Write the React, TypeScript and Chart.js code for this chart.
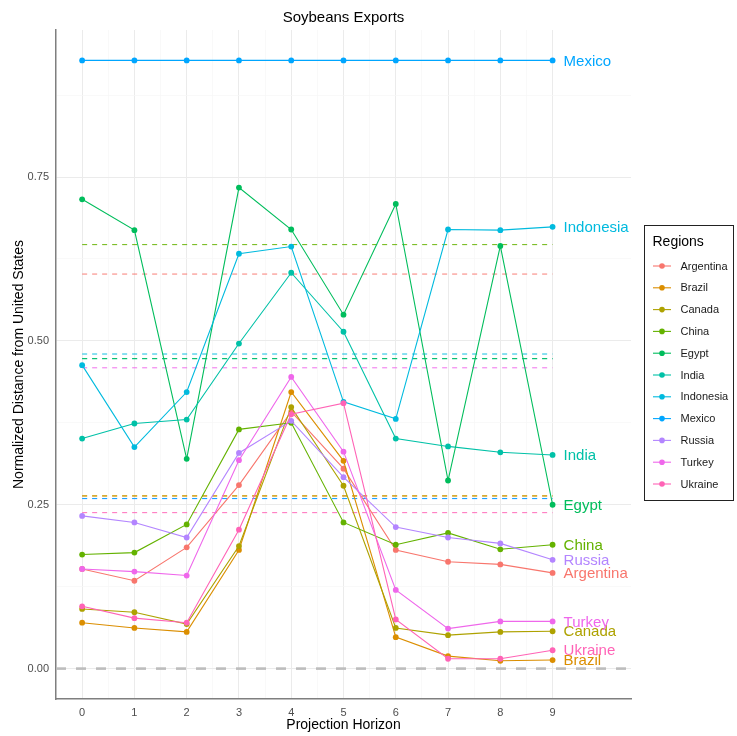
import { useEffect, useRef } from 'react';
import { Chart, registerables } from 'chart.js';

Chart.register(...registerables);

const FONT = "'Liberation Sans', Arial, Helvetica, sans-serif";

// Projection horizons on the x axis
const horizons = [0, 1, 2, 3, 4, 5, 6, 7, 8, 9];

const regions = [
  'Argentina', 'Brazil', 'Canada', 'China', 'Egypt', 'India',
  'Indonesia', 'Mexico', 'Russia', 'Turkey', 'Ukraine',
];

const regionColors = [
  '#F8766D', '#DB8E00', '#AEA200', '#64B200', '#00BD5C', '#00C1A7',
  '#00BADE', '#00A6FF', '#B385FF', '#EF67EB', '#FF63B6',
];

// Normalized distance from the United States, per horizon
const argentina = [0.152, 0.134, 0.185, 0.280, 0.392, 0.305, 0.181, 0.163, 0.159, 0.146];
const brazil = [0.070, 0.062, 0.056, 0.181, 0.422, 0.317, 0.048, 0.019, 0.012, 0.013];
const canada = [0.091, 0.086, 0.068, 0.187, 0.399, 0.279, 0.062, 0.051, 0.056, 0.057];
const china = [0.174, 0.177, 0.220, 0.365, 0.375, 0.223, 0.189, 0.207, 0.182, 0.189];
const egypt = [0.716, 0.669, 0.320, 0.734, 0.670, 0.540, 0.709, 0.287, 0.645, 0.250];
const india = [0.351, 0.374, 0.380, 0.496, 0.604, 0.514, 0.351, 0.339, 0.330, 0.326];
const indonesia = [0.463, 0.338, 0.422, 0.633, 0.644, 0.407, 0.381, 0.670, 0.669, 0.674];
const mexico = [0.928, 0.928, 0.928, 0.928, 0.928, 0.928, 0.928, 0.928, 0.928, 0.928];
const russia = [0.233, 0.223, 0.200, 0.329, 0.378, 0.292, 0.216, 0.200, 0.191, 0.166];
const turkey = [0.152, 0.148, 0.142, 0.318, 0.445, 0.331, 0.120, 0.061, 0.072, 0.072];
const ukraine = [0.095, 0.077, 0.070, 0.212, 0.388, 0.405, 0.075, 0.015, 0.015, 0.028];

const seriesValues = [
  argentina, brazil, canada, china, egypt, india,
  indonesia, mexico, russia, turkey, ukraine,
];

// Per-region reference levels (dashed lines)
const referenceLevels = [0.602, 0.2635, 0.2635, 0.647, 0.473, 0.473, 0.480, 0.2595, 0.2595, 0.459, 0.238];

// Axis tick positions (majors labelled, minors only gridded)
const xTicks = [0, 0.5, 1, 1.5, 2, 2.5, 3, 3.5, 4, 4.5, 5, 5.5, 6, 6.5, 7, 7.5, 8, 8.5, 9];
const yTicks = [0, 0.125, 0.25, 0.375, 0.5, 0.625, 0.75, 0.875];
const yMajor = [0, 0.25, 0.5, 0.75];

function withAlpha(hex: string, a: number) {
  const n = parseInt(hex.slice(1), 16);
  return `rgba(${(n >> 16) & 255},${(n >> 8) & 255},${n & 255},${a})`;
}

const isMajorY = (v: number) => yMajor.some((m) => Math.abs(m - v) < 1e-9);

const endLabels = {
  id: 'endLabels',
  afterDatasetsDraw(chart: any) {
    const ctx = chart.ctx;
    ctx.save();
    ctx.font = `15px ${FONT}`;
    ctx.textAlign = 'left';
    ctx.textBaseline = 'middle';
    chart.data.datasets.forEach((ds: any, i: number) => {
      if (!ds.isSeries) return;
      const meta = chart.getDatasetMeta(i);
      const last = meta.data[meta.data.length - 1];
      ctx.fillStyle = ds.borderColor;
      ctx.fillText(ds.label, last.x + 11, last.y + 1);
    });
    ctx.restore();
  },
};

const regionLegend = {
  id: 'regionLegend',
  afterDraw(chart: any) {
    const ctx = chart.ctx;
    const left = chart.chartArea.right + 13.5;
    const top = 225.5;
    const width = 89;
    const height = 275;
    ctx.save();
    ctx.fillStyle = '#FFFFFF';
    ctx.fillRect(left, top, width, height);
    ctx.strokeStyle = '#222222';
    ctx.lineWidth = 1;
    ctx.strokeRect(left, top, width, height);

    ctx.fillStyle = '#000000';
    ctx.font = `14px ${FONT}`;
    ctx.textAlign = 'left';
    ctx.textBaseline = 'middle';
    ctx.fillText('Regions', left + 8, top + 17);

    ctx.font = `11px ${FONT}`;
    regions.forEach((name, i) => {
      const y = top + 40.5 + i * 21.8;
      const c = regionColors[i];
      ctx.strokeStyle = c;
      ctx.lineWidth = 1.1;
      ctx.beginPath();
      ctx.moveTo(left + 8.5, y);
      ctx.lineTo(left + 26.5, y);
      ctx.stroke();
      ctx.fillStyle = c;
      ctx.beginPath();
      ctx.arc(left + 17.5, y, 2.8, 0, Math.PI * 2);
      ctx.fill();
      ctx.fillStyle = '#1A1A1A';
      ctx.fillText(name, left + 36, y + 0.5);
    });
    ctx.restore();
  },
};

export default function App() {
  const canvasRef = useRef<HTMLCanvasElement | null>(null);

  useEffect(() => {
    if (!canvasRef.current) return;

    const zeroLine = {
      label: 'zero',
      data: [{ x: -0.5, y: 0 }, { x: 10.5, y: 0 }],
      borderColor: '#BDBDBD',
      borderWidth: 2.6,
      borderDash: [10, 10],
      pointRadius: 0,
      order: 200,
    };

    const refLines = regions.map((name, i) => ({
      label: `${name} reference`,
      data: [
        { x: horizons[0], y: referenceLevels[i] },
        { x: horizons[horizons.length - 1], y: referenceLevels[i] },
      ],
      borderColor: withAlpha(regionColors[i], 0.85),
      borderWidth: 1.1,
      borderDash: [5, 5],
      pointRadius: 0,
      order: 100 + i,
    }));

    const series = regions.map((name, i) => ({
      label: name,
      isSeries: true,
      data: horizons.map((h, k) => ({ x: h, y: seriesValues[i][k] })),
      borderColor: regionColors[i],
      backgroundColor: regionColors[i],
      borderWidth: 1.1,
      pointRadius: 2.9,
      pointBorderWidth: 0,
      pointBackgroundColor: regionColors[i],
      tension: 0,
      order: regions.length - i,
    }));

    const chart = new Chart(canvasRef.current, {
      type: 'line',
      data: { datasets: [zeroLine, ...refLines, ...series] as any },
      options: {
        animation: false,
        responsive: false,
        devicePixelRatio: 1,
        events: [],
        layout: { padding: { left: 0, right: 106, top: 0, bottom: 0 } },
        plugins: {
          legend: { display: false },
          tooltip: { enabled: false },
          title: {
            display: true,
            text: 'Soybeans Exports',
            fullSize: false,
            color: '#000000',
            font: { family: FONT, size: 15, weight: 'normal', lineHeight: 1.2 },
            padding: { top: 9, bottom: 3 },
          },
        },
        scales: {
          x: {
            type: 'linear',
            min: -0.5,
            max: 10.5,
            afterBuildTicks: (scale: any) => {
              scale.ticks = xTicks.map((v) => ({ value: v }));
            },
            afterFit: (scale: any) => {
              scale.height = 37;
            },
            ticks: {
              autoSkip: false,
              maxRotation: 0,
              padding: 7,
              color: '#4D4D4D',
              font: { family: FONT, size: 11 },
              callback: (v: any) => (Number.isInteger(v) ? String(v) : ''),
            },
            grid: {
              drawTicks: false,
              color: (c: any) => (c.tick && Number.isInteger(c.tick.value) ? '#EBEBEB' : '#F6F6F6'),
              lineWidth: (c: any) => (c.tick && Number.isInteger(c.tick.value) ? 1 : 0.7),
            },
            border: { display: true, color: '#7F7F7F', width: 1.5 },
            title: {
              display: true,
              text: 'Projection Horizon',
              color: '#000000',
              font: { family: FONT, size: 14, lineHeight: 1.2 },
              padding: { top: 0, bottom: 2 },
            },
          },
          y: {
            type: 'linear',
            min: -0.0464,
            max: 0.9744,
            afterBuildTicks: (scale: any) => {
              scale.ticks = yTicks.map((v) => ({ value: v }));
            },
            afterFit: (scale: any) => {
              scale.width = 56;
            },
            ticks: {
              autoSkip: false,
              padding: 7,
              color: '#4D4D4D',
              font: { family: FONT, size: 11 },
              callback: (v: any) => (isMajorY(v) ? Number(v).toFixed(2) : ''),
            },
            grid: {
              drawTicks: false,
              color: (c: any) => (c.tick && isMajorY(c.tick.value) ? '#EBEBEB' : '#F6F6F6'),
              lineWidth: (c: any) => (c.tick && isMajorY(c.tick.value) ? 1 : 0.7),
            },
            border: { display: true, color: '#7F7F7F', width: 1.5 },
            title: {
              display: true,
              text: 'Normalized Distance from United States',
              color: '#000000',
              font: { family: FONT, size: 14, lineHeight: 1.2 },
              padding: { top: 11, bottom: 0 },
            },
          },
        },
      } as any,
      plugins: [endLabels, regionLegend],
    });

    return () => chart.destroy();
  }, []);

  return (
    <div style={{ position: 'absolute', left: 0, top: 0, width: 737, height: 736, background: '#FFFFFF' }}>
      <canvas ref={canvasRef} width={737} height={736} style={{ display: 'block' }} />
    </div>
  );
}
